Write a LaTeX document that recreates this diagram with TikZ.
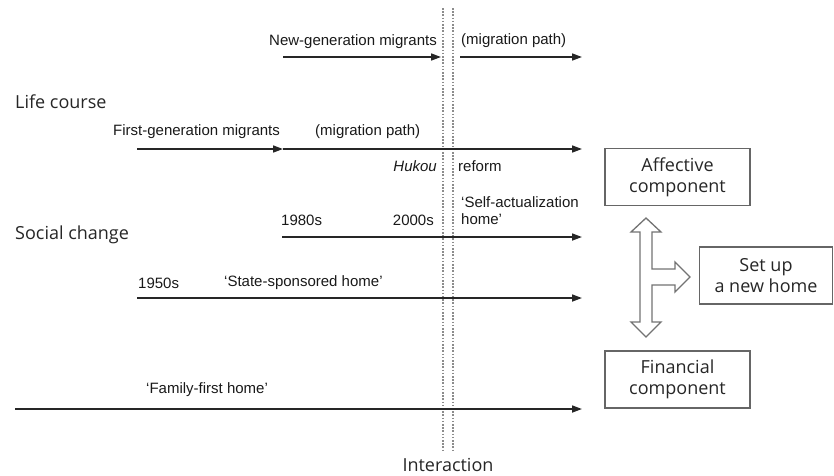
\documentclass[tikz,border=0pt]{standalone}
\usepackage{fontspec}
\setmainfont{Open Sans}
\newfontfamily\lblfont{Liberation Sans}
\usetikzlibrary{arrows.meta}
\begin{document}
\begin{tikzpicture}[x=1pt,y=-1pt,
  big/.style={font=\fontsize{18}{21}\selectfont, text=black!85, inner sep=0pt},
  lbl/.style={font=\lblfont\fontsize{15}{17}\selectfont, text=black!90, inner sep=0pt},
  tl/.style={line width=1.6pt, draw=black!85, -{Triangle[length=10pt,width=7pt]}},
  box/.style={draw=black!60, line width=1.2pt, font=\fontsize{18}{21}\selectfont, text=black!85, align=center, minimum height=57pt, inner sep=0pt},
  dots/.style={draw=black!45, line width=1.6pt, dash pattern=on 1.6pt off 1.6pt},
  hollow/.style={draw=black!55, line width=1.3pt, fill=white, line join=miter}
]
\useasboundingbox (0,0) rectangle (834,475);

% interaction dotted lines
\coordinate (d1t) at (443,8); \coordinate (d1b) at (443,450);
\coordinate (d2t) at (453,8); \coordinate (d2b) at (453,450);
\draw[dots] (d1t) -- (d1b);
\draw[dots] (d2t) -- (d2b);
\node[big, anchor=north] (inter) at (448,458) {Interaction};

% left labels
\node[big, anchor=west] (life) at (15,102) {Life course};
\node[big, anchor=west] (social) at (15,235) {Social change};

% new-generation
\coordinate (ng1) at (283,57); \coordinate (ng2) at (441,57);
\coordinate (ng3) at (460,57); \coordinate (ng4) at (582,57);
\draw[tl] (ng1) -- (ng2);
\draw[tl] (ng3) -- (ng4);
\node[lbl, anchor=east] (ngt) at (437,42) {New-generation migrants};
\node[lbl, anchor=west] (mp1) at (461,41) {(migration path)};

% first-generation
\coordinate (fg1) at (137,149); \coordinate (fg2) at (283,149);
\coordinate (fg3) at (582,149);
\draw[tl] (fg1) -- (fg2);
\draw[tl] (fg2) -- (fg3);
\node[lbl, anchor=west] (fgt) at (113,132) {First-generation migrants};
\node[lbl, anchor=west] (mp2) at (315,132) {(migration path)};
\node[lbl, anchor=east] (hk) at (437,166) {\itshape Hukou};
\node[lbl, anchor=west] (rf) at (458,166) {reform};

% 1980s
\coordinate (a1) at (282,237); \coordinate (a2) at (582,237);
\draw[tl] (a1) -- (a2);
\node[lbl, anchor=west] (y80) at (281,220) {1980s};
\node[lbl, anchor=east] (y00) at (434,220) {2000s};
\node[lbl, anchor=west, align=left] (sa) at (461,211) {‘Self-actualization\\home’};

% 1950s
\coordinate (b1) at (137,298); \coordinate (b2) at (582,298);
\draw[tl] (b1) -- (b2);
\node[lbl, anchor=west] (y50) at (138,283) {1950s};
\node[lbl, anchor=west] (ss) at (224,283) {‘State-sponsored home’};

% family-first
\coordinate (c1) at (15,409); \coordinate (c2) at (582,409);
\draw[tl] (c1) -- (c2);
\node[lbl, anchor=west] (ff) at (146,390) {‘Family-first home’};

% boxes
\node[box, minimum width=145pt] (aff) at (677.5,177) {Affective\\component};
\node[box, minimum width=145pt] (fin) at (677.5,379.5) {Financial\\component};
\node[box, minimum width=133pt] (set) at (766,275.5) {Set up\\a new home};

% hollow T arrow
\draw[hollow] (646,218) -- (661,232) -- (652,232) -- (652,269) -- (675,269)
  -- (675,262) -- (690,277) -- (675,292) -- (675,285) -- (652,285)
  -- (652,322) -- (661,322) -- (646,337) -- (631,322) -- (640,322)
  -- (640,232) -- (631,232) -- cycle;
\end{tikzpicture}
\end{document}
